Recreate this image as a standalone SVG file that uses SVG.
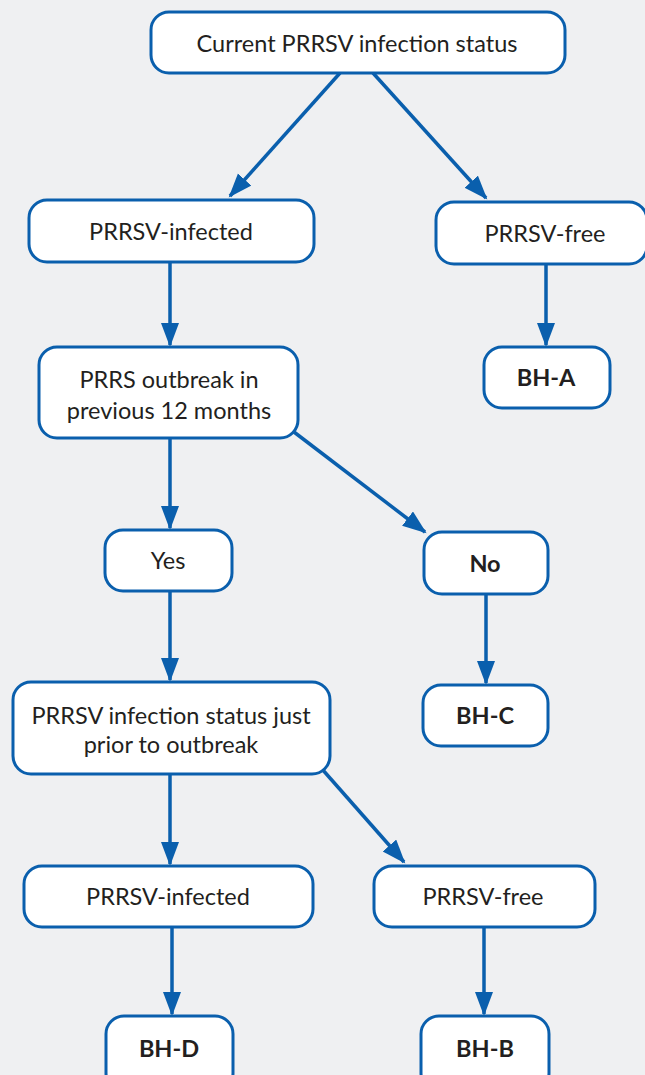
<svg xmlns="http://www.w3.org/2000/svg" width="645" height="1075" viewBox="0 0 645 1075">
<style>
.box{fill:#ffffff;stroke:#0a5fad;stroke-width:3}
.t{font-family:Lato,"Open Sans",sans-serif;font-size:23.5px;fill:#231f20;text-anchor:middle}
.b{font-weight:bold;font-size:23.5px}
.c{stroke:#0a5fad;stroke-width:3.5;fill:none;marker-end:url(#ah)}
</style>
<defs>
<marker id="ah" markerUnits="userSpaceOnUse" markerWidth="26" markerHeight="20" refX="22" refY="9" orient="auto">
<path d="M0,0 L24,9 L0,18 Z" fill="#0a5fad"/>
</marker>
</defs>
<rect width="645" height="1075" fill="#eff0f2"/>
<g id="connectors">
<line class="c" x1="340" y1="73" x2="230" y2="196"/>
<line class="c" x1="373" y1="73" x2="486" y2="198"/>
<line class="c" x1="170" y1="262" x2="170" y2="345"/>
<line class="c" x1="546" y1="265" x2="546" y2="345"/>
<line class="c" x1="294" y1="432" x2="425" y2="532"/>
<line class="c" x1="170" y1="438" x2="170" y2="528"/>
<line class="c" x1="486" y1="594" x2="486" y2="683"/>
<line class="c" x1="170" y1="591" x2="170" y2="680"/>
<line class="c" x1="170" y1="774" x2="170" y2="864"/>
<line class="c" x1="322" y1="769" x2="404" y2="862"/>
<line class="c" x1="172" y1="927" x2="172" y2="1014"/>
<line class="c" x1="484" y1="927" x2="484" y2="1014"/>
</g>
<g id="n-current"><rect class="box" x="151" y="12" width="414" height="61" rx="18"/><text class="t" x="357" y="52">Current PRRSV infection status</text></g>
<g id="n-infected1"><rect class="box" x="29" y="200" width="285" height="62" rx="18"/><text class="t" x="171" y="240">PRRSV-infected</text></g>
<g id="n-free1"><rect class="box" x="436" y="202" width="211" height="62" rx="18"/><text class="t" x="545" y="242">PRRSV-free</text></g>
<g id="n-bha"><rect class="box" x="484" y="347" width="126" height="61" rx="18"/><text class="t b" x="546" y="386">BH-A</text></g>
<g id="n-outbreak"><rect class="box" x="39" y="347" width="259" height="91" rx="18"/><text class="t" x="169" y="388">PRRS outbreak in</text><text class="t" x="169" y="419">previous 12 months</text></g>
<g id="n-yes"><rect class="box" x="105" y="530" width="127" height="61" rx="18"/><text class="t" x="168" y="569">Yes</text></g>
<g id="n-no"><rect class="box" x="424" y="532" width="124" height="62" rx="18"/><text class="t b" x="485" y="572">No</text></g>
<g id="n-bhc"><rect class="box" x="423" y="685" width="125" height="61" rx="18"/><text class="t b" x="485" y="724">BH-C</text></g>
<g id="n-prior"><rect class="box" x="13" y="682" width="317" height="92" rx="18"/><text class="t" x="171" y="724">PRRSV infection status just</text><text class="t" x="171" y="753">prior to outbreak</text></g>
<g id="n-infected2"><rect class="box" x="24" y="866" width="289" height="61" rx="18"/><text class="t" x="168" y="905">PRRSV-infected</text></g>
<g id="n-free2"><rect class="box" x="374" y="866" width="221" height="61" rx="18"/><text class="t" x="483" y="905">PRRSV-free</text></g>
<g id="n-bhd"><rect class="box" x="106" y="1016" width="127" height="75" rx="18"/><text class="t b" x="169" y="1057">BH-D</text></g>
<g id="n-bhb"><rect class="box" x="421" y="1016" width="128" height="75" rx="18"/><text class="t b" x="485" y="1057">BH-B</text></g>
</svg>
